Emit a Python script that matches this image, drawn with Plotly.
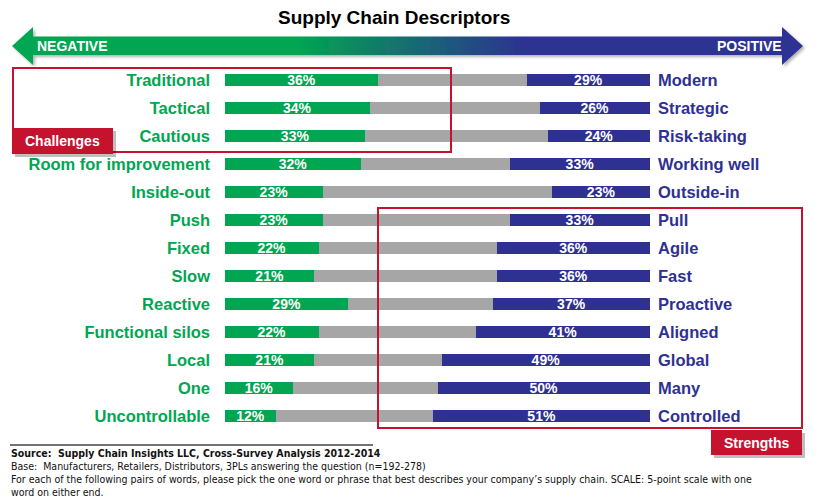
import base64
import plotly.graph_objects as go

# ---------------- data ----------------
negative_labels = ["Traditional", "Tactical", "Cautious", "Room for improvement", "Inside-out",
                   "Push", "Fixed", "Slow", "Reactive", "Functional silos", "Local", "One",
                   "Uncontrollable"]
positive_labels = ["Modern", "Strategic", "Risk-taking", "Working well", "Outside-in",
                   "Pull", "Agile", "Fast", "Proactive", "Aligned", "Global", "Many",
                   "Controlled"]
negative_pct = [36, 34, 33, 32, 23, 23, 22, 21, 29, 22, 21, 16, 12]
positive_pct = [29, 26, 24, 33, 23, 33, 36, 36, 37, 41, 49, 50, 51]
neutral_pct = [100 - n - p for n, p in zip(negative_pct, positive_pct)]

title_text = "Supply Chain Descriptors"
footer_lines = [
    "<b>Source:  Supply Chain Insights LLC, Cross-Survey Analysis 2012-2014</b>",
    "Base:  Manufacturers, Retailers, Distributors, 3PLs answering the question (n=192-278)",
    "For each of the following pairs of words, please pick the one word or phrase that best describes your company\u2019s supply chain. SCALE: 5-point scale with one",
    "word on either end.",
]

# ---------------- style ----------------
W, H = 820, 504
ML, MR, MT, MB = 225, 170, 66, 74
GREEN = "#00a651"
BLUE = "#2e3192"
GRAY = "#a6a6a6"
RED = "#c4122f"
FONT = "Liberation Sans, Arial, sans-serif"
NARROW = "DejaVu Sans Condensed, Liberation Sans Narrow, Arial Narrow, sans-serif"

PW = W - ML - MR
PH = H - MT - MB


def px(x):
    return (x - ML) / PW


def py(y):
    return (H - MB - y) / PH


rows = list(range(len(negative_labels)))

fig = go.Figure()
fig.add_trace(go.Bar(
    y=rows, x=negative_pct, orientation="h", width=0.4,
    marker=dict(color=GREEN, line=dict(width=0)),
    text=[f"{v}%" for v in negative_pct], textposition="inside",
    insidetextanchor="middle", constraintext="none",
    textfont=dict(color="white", size=14, family=FONT, weight="bold"),
    hoverinfo="skip", showlegend=False,
))
fig.add_trace(go.Bar(
    y=rows, x=neutral_pct, orientation="h", width=0.4,
    marker=dict(color=GRAY, line=dict(width=0)),
    hoverinfo="skip", showlegend=False,
))
fig.add_trace(go.Bar(
    y=rows, x=positive_pct, orientation="h", width=0.4,
    marker=dict(color=BLUE, line=dict(width=0)),
    text=[f"{v}%" for v in positive_pct], textposition="inside",
    insidetextanchor="middle", constraintext="none",
    textfont=dict(color="white", size=14, family=FONT, weight="bold"),
    hoverinfo="skip", showlegend=False,
))
# invisible trace to anchor the right-hand axis
fig.add_trace(go.Scatter(y=rows, x=[0] * len(rows), yaxis="y2", mode="markers",
                         marker=dict(opacity=0), hoverinfo="skip", showlegend=False))

yr = [len(rows) - 0.5, -0.5]
fig.update_layout(
    width=W, height=H,
    margin=dict(l=ML, r=MR, t=MT, b=MB, pad=0),
    barmode="stack",
    paper_bgcolor="white", plot_bgcolor="rgba(0,0,0,0)",
    xaxis=dict(range=[0, 100], visible=False, fixedrange=True),
    yaxis=dict(range=yr, tickmode="array", tickvals=rows, ticktext=negative_labels,
               showgrid=False, zeroline=False, showline=False, ticks="",
               ticklabelstandoff=14,
               tickfont=dict(family=FONT, size=16.5, color=GREEN, weight="bold")),
    yaxis2=dict(range=yr, overlaying="y", side="right", tickmode="array",
                tickvals=rows, ticktext=positive_labels, showgrid=False,
                zeroline=False, showline=False, ticks="", ticklabelstandoff=7,
                tickfont=dict(family=FONT, size=16.5, color=BLUE, weight="bold")),
    font=dict(family=FONT),
)

# ---------------- gradient arrow (SVG overlay) ----------------
svg = f"""<svg xmlns='http://www.w3.org/2000/svg' width='{W}' height='{H}' viewBox='0 0 {W} {H}'>
<defs>
<linearGradient id='g' x1='12' y1='0' x2='803' y2='0' gradientUnits='userSpaceOnUse'>
<stop offset='0' stop-color='{GREEN}'/>
<stop offset='0.36' stop-color='{GREEN}'/>
<stop offset='0.65' stop-color='{BLUE}'/>
<stop offset='1' stop-color='{BLUE}'/>
</linearGradient>
<filter id='s' x='-5%' y='-50%' width='110%' height='200%'>
<feDropShadow dx='2' dy='2' stdDeviation='1.5' flood-color='#000' flood-opacity='0.3'/>
</filter>
</defs>
<path d='M12,46 L33,27 L33,36.5 L782,36.5 L782,27 L803,46 L782,65 L782,55 L33,55 L33,65 Z' fill='url(#g)' filter='url(#s)'/>
</svg>"""
src = "data:image/svg+xml;base64," + base64.b64encode(svg.encode()).decode()
fig.add_layout_image(dict(source=src, xref="paper", yref="paper", x=px(0), y=py(0),
                          sizex=W / PW, sizey=H / PH, xanchor="left", yanchor="top",
                          sizing="stretch", layer="below"))

ann = []
ann.append(dict(text=f"<b>{title_text}</b>", x=px(394), y=py(17), xref="paper", yref="paper",
                showarrow=False, xanchor="center", yanchor="middle",
                font=dict(family=FONT, size=19, color="black")))
ann.append(dict(text="<b>NEGATIVE</b>", x=px(35), y=py(46), xref="paper", yref="paper",
                showarrow=False, xanchor="left", yanchor="middle",
                font=dict(family=FONT, size=14, color="white")))
ann.append(dict(text="<b>POSITIVE</b>", x=px(784), y=py(46), xref="paper", yref="paper",
                showarrow=False, xanchor="right", yanchor="middle",
                font=dict(family=FONT, size=14, color="white")))

shapes = []
# Challenges box
shapes.append(dict(type="rect", xref="paper", yref="paper", x0=px(13), x1=px(451),
                   y0=py(68), y1=py(152), line=dict(color=RED, width=2), fillcolor="rgba(0,0,0,0)"))
# Strengths box
shapes.append(dict(type="rect", xref="paper", yref="paper", x0=px(378), x1=px(802),
                   y0=py(208), y1=py(428), line=dict(color=RED, width=2), fillcolor="rgba(0,0,0,0)"))
# tag shadows
shapes.append(dict(type="rect", xref="paper", yref="paper", x0=px(15), x1=px(116),
                   y0=py(131), y1=py(157), line=dict(width=0), fillcolor="rgba(0,0,0,0.25)"))
shapes.append(dict(type="rect", xref="paper", yref="paper", x0=px(714), x1=px(805),
                   y0=py(433), y1=py(458), line=dict(width=0), fillcolor="rgba(0,0,0,0.25)"))
# tags
shapes.append(dict(type="rect", xref="paper", yref="paper", x0=px(12), x1=px(113),
                   y0=py(128), y1=py(154), line=dict(width=0), fillcolor=RED))
shapes.append(dict(type="rect", xref="paper", yref="paper", x0=px(711), x1=px(802),
                   y0=py(430), y1=py(455), line=dict(width=0), fillcolor=RED))
# footer rule
shapes.append(dict(type="line", xref="paper", yref="paper", x0=px(10), x1=px(373),
                   y0=py(445), y1=py(445), line=dict(color="#444444", width=1.5)))

ann.append(dict(text="<b>Challenges</b>", x=px(62.5), y=py(141), xref="paper", yref="paper",
                showarrow=False, xanchor="center", yanchor="middle",
                font=dict(family=FONT, size=14, color="white")))
ann.append(dict(text="<b>Strengths</b>", x=px(756.5), y=py(442.5), xref="paper", yref="paper",
                showarrow=False, xanchor="center", yanchor="middle",
                font=dict(family=FONT, size=14, color="white")))

for i, line in enumerate(footer_lines):
    ann.append(dict(text=line, x=px(9), y=py(452.5 + i * 13.3), xref="paper", yref="paper",
                    showarrow=False, xanchor="left", yanchor="middle",
                    font=dict(family=NARROW, size=10.5, color="#111111")))

fig.update_layout(annotations=ann, shapes=shapes)
fig.write_html(
    "out.html",
    config={"displayModeBar": False},
    post_script="document.body.style.margin='0';document.body.style.padding='0';"
                "document.body.style.overflow='hidden';",
)
